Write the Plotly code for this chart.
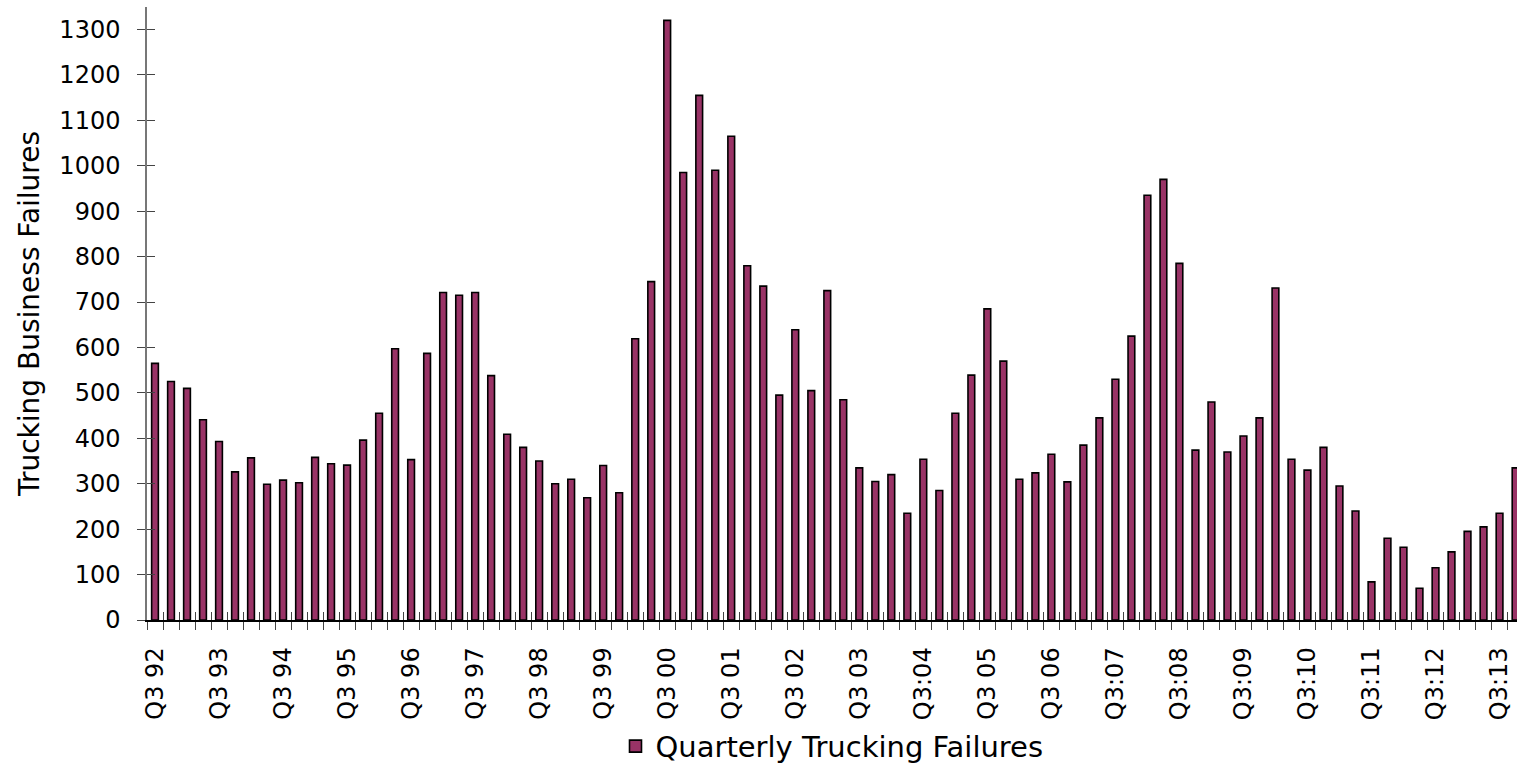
import plotly.graph_objects as go

# ---- data ----
years = list(range(1992, 2014))
quarters = []
for y in years:
    for q in (["Q3", "Q4"] if y == 1992 else ["Q1", "Q2", "Q3", "Q4"]):
        quarters.append(f"{q} {str(y)[2:]}")

failures = [
    565, 525, 510, 441, 393, 326, 357, 299, 308, 302,
    358, 344, 341, 396, 455, 597, 353, 587, 721, 715,
    721, 538, 409, 380, 350, 300, 310, 269, 340, 280,
    619, 745, 1320, 985, 1155, 990, 1065, 780, 735, 495,
    639, 505, 725, 485, 335, 305, 320, 235, 354, 285,
    455, 539, 685, 570, 310, 324, 365, 304, 385, 445,
    530, 625, 935, 970, 785, 374, 480, 370, 405, 445,
    731, 354, 330, 380, 295, 240, 84, 180, 160, 70,
    115, 150, 195, 205, 235, 335,
]

tick_labels = [
    "Q3 92", "Q3 93", "Q3 94", "Q3 95", "Q3 96", "Q3 97", "Q3 98", "Q3 99",
    "Q3 00", "Q3 01", "Q3 02", "Q3 03", "Q3:04", "Q3 05", "Q3 06", "Q3:07",
    "Q3:08", "Q3:09", "Q3:10", "Q3:11", "Q3:12", "Q3:13",
]

series_name = "Quarterly Trucking Failures"
y_title = "Trucking Business Failures"

x_idx = list(range(len(failures)))
tick_pos = x_idx[::4][:len(tick_labels)]

FONT = "DejaVu Sans, Arial, sans-serif"
BAR = "#993366"

fig = go.Figure()
fig.add_trace(go.Bar(
    x=x_idx, y=failures, name=series_name, text=quarters[:len(failures)],
    hovertemplate="%{text}: %{y}<extra></extra>",
    textposition="none",
    width=0.42,
    marker=dict(color=BAR, line=dict(color="black", width=1.6)),
))
# helper trace so the overlay axes (inner halves of the crossing ticks) exist
fig.add_trace(go.Scatter(x=[None], y=[None], xaxis="x2", yaxis="y2",
                         showlegend=False, hoverinfo="skip"))

xr = [-0.5, 85.09]
yr = [0, 1349.5]

fig.update_layout(
    width=1517, height=777,
    margin=dict(l=147, r=0, t=7, b=157),
    paper_bgcolor="white", plot_bgcolor="white",
    font=dict(family=FONT, color="black"),
    showlegend=True,
    legend=dict(orientation="h", x=0.5, xanchor="center", y=-0.206, yanchor="middle",
                font=dict(size=29, family=FONT), itemwidth=30),
    xaxis=dict(
        range=xr, showgrid=False, zeroline=False,
        showline=True, linecolor="black", linewidth=1.5,
        tickmode="array", tickvals=tick_pos, ticktext=tick_labels,
        ticks="", tickangle=-90, tickfont=dict(size=24, family=FONT),
        ticklabelstandoff=16,
        minor=dict(tick0=-0.5, dtick=1, ticks="outside", ticklen=8,
                   tickcolor="#444", tickwidth=1, showgrid=False),
    ),
    yaxis=dict(
        range=yr, showgrid=False, zeroline=False,
        showline=True, linecolor="#777", linewidth=1.5,
        tickmode="linear", tick0=0, dtick=100,
        ticks="outside", ticklen=8, tickcolor="#444", tickwidth=1,
        tickfont=dict(size=24, family=FONT), ticklabelstandoff=12,
        title=dict(text=y_title, font=dict(size=28, family=FONT), standoff=12),
    ),
    xaxis2=dict(
        range=xr, overlaying="x", anchor="y2", side="bottom",
        showgrid=False, zeroline=False, showline=False,
        tickmode="linear", tick0=-0.5, dtick=1, ticks="inside", ticklen=8,
        tickcolor="#444", tickwidth=1, showticklabels=False,
    ),
    yaxis2=dict(
        range=yr, overlaying="y", anchor="x2", side="left",
        showgrid=False, zeroline=False, showline=False,
        tickmode="linear", tick0=0, dtick=100, ticks="inside", ticklen=8,
        tickcolor="#444", tickwidth=1, showticklabels=False,
    ),
)

# remove the page's default body margin / scrollbars so the figure fills the window
fig.write_html(
    "out.html",
    config={"displayModeBar": False},
    post_script="document.body.style.margin='0';document.body.style.overflow='hidden';",
)
